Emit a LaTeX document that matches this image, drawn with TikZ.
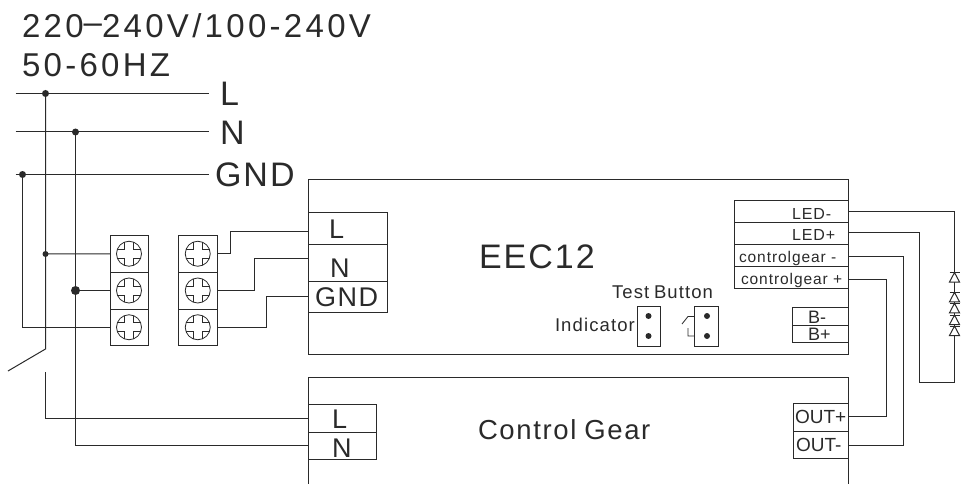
\documentclass[tikz,border=0pt]{standalone}
\usepackage{fontspec}
\setmainfont{Liberation Sans}
\newfontfamily\widefont[LetterSpace=6]{Liberation Sans}
\newfontfamily\titlefont[LetterSpace=10]{Liberation Sans}
\definecolor{ink}{HTML}{2A2A2A}
\newcommand{\fsz}[1]{\fontsize{#1}{#1}\selectfont}
% rectangle node from corner to corner
\newcommand{\cell}[5]{%
  \pgfmathsetmacro{\cw}{#4-#2}\pgfmathsetmacro{\ch}{#5-#3}%
  \pgfmathsetmacro{\cx}{(#2+#4)/2}\pgfmathsetmacro{\cy}{(#3+#5)/2}%
  \node[boxcell,minimum width=\cw pt,minimum height=\ch pt] (#1) at (\cx,\cy) {};}
\tikzset{
  x=1pt,y=-1pt,
  wire/.style={line width=1pt,color=ink},
  boxcell/.style={draw=ink,line width=1pt,rectangle,inner sep=0pt,outer sep=0pt},
  dotnode/.style={circle,fill=ink,inner sep=0pt,outer sep=0pt},
  lab/.style={anchor=base west,inner sep=0pt,outer sep=0pt,text=ink},
  screw/.pic={
    \draw[line width=.8pt,color=ink] (0,0) circle[radius=12.5];
    \draw[line width=.8pt,color=ink]
      (4.5,-11.6)--(4.5,-4.5)--(11.6,-4.5)
      (11.6,4.5)--(4.5,4.5)--(4.5,11.6)
      (-4.5,11.6)--(-4.5,4.5)--(-11.6,4.5)
      (-11.6,-4.5)--(-4.5,-4.5)--(-4.5,-11.6);
  },
  diode/.pic={
    \filldraw[line width=1pt,draw=ink,fill=white] (5,9.5)--(0,0)--(-5,9.5)--cycle;
    \draw[line width=1pt,color=ink] (-5,0)--(5,0);
  }
}
\begin{document}
\begin{tikzpicture}
\useasboundingbox (0,0) rectangle (961,484);
% titles
\node[lab,font=\titlefont\fsz{33}] (title1) at (22,37.5) {220\raisebox{4pt}{–}240V/100-240V};
\node[lab,font=\titlefont\fsz{33}] (title2) at (22,76.5) {50-60HZ};
% mains labels
\node[lab,font=\fsz{34}] (tL) at (220,106) {L};
\node[lab,font=\fsz{34}] (tN) at (220,145) {N};
\node[lab,font=\widefont\fsz{34}] (tG) at (215,186) {GND};
% mains free ends
\coordinate (lA) at (15.5,93.5); \coordinate (lB) at (209,93.5);
\coordinate (nA) at (15.5,132); \coordinate (nB) at (209,132);
\coordinate (gA) at (15.5,174.5); \coordinate (gB) at (209,174.5);
\draw[wire] (lA)--(lB) (nA)--(nB) (gA)--(gB);
\node[dotnode,minimum size=7pt] (dL) at (45.5,93.5) {};
\node[dotnode,minimum size=7pt] (dN) at (75.5,132) {};
\node[dotnode,minimum size=7pt] (dG) at (22.5,174.5) {};
\node[dotnode,minimum size=6pt] (dL2) at (45.5,254) {};
\node[dotnode,minimum size=9pt] (dN2) at (75.5,290.5) {};
% terminals
\cell{ta}{110}{235.5}{148}{272}
\cell{tb}{110}{272}{148}{309}
\cell{tc}{110}{309}{148}{345.5}
\cell{ua}{178.5}{235.5}{217}{272}
\cell{ub}{178.5}{272}{217}{309}
\cell{uc}{178.5}{309}{217}{345.5}
\foreach \n in {ta,tb,tc,ua,ub,uc} \pic at (\n) {screw};
% EEC12 box
\cell{eec}{308.5}{179}{848}{354}
\cell{inL}{308}{212.5}{387}{244.5}
\cell{inN}{308}{244.5}{387}{281.5}
\cell{inG}{308}{281.5}{387}{312.5}
\node[lab,font=\fsz{27}] (xL) at (329,238) {L};
\node[lab,font=\fsz{27}] (xN) at (330,277) {N};
\node[lab,font=\widefont\fsz{27}] (xG) at (315,306.5) {GND};
\node[lab,font=\widefont\fsz{34}] (xE) at (479,268) {EEC12};
\node[lab,font=\widefont\fsz{18.5}] (xT) at (612,298) {Test\hspace{-1.5pt} Button};
\node[lab,font=\widefont\fsz{18.5}] (xI) at (555,331) {Indicator};
\cell{ind}{637}{306}{660.5}{346}
\cell{btn}{694.5}{306}{718}{346}
\node[dotnode,minimum size=6pt] (i1) at (648.5,316) {};
\node[dotnode,minimum size=6pt] (i2) at (648.5,336) {};
\node[dotnode,minimum size=6pt] (b1) at (707,316) {};
\node[dotnode,minimum size=6pt] (b2) at (707,336) {};
\coordinate (s1) at (694.5,316.5); \coordinate (s2) at (688,316.5); \coordinate (s3) at (682,324);
\coordinate (s4) at (688,328); \coordinate (s5) at (688,336); \coordinate (s6) at (694.5,336);
\draw[line width=.8pt,color=ink] (s1)--(s2)--(s3) (s4)--(s5)--(s6);
\cell{c1}{734}{200.5}{848}{222.5}
\cell{c2}{734}{222.5}{848}{244.5}
\cell{c3}{734}{244.5}{848}{266.5}
\cell{c4}{734}{266.5}{848}{288.5}
\node[lab,font=\widefont\fsz{16}] (x1) at (792,219) {LED-};
\node[lab,font=\widefont\fsz{16}] (x2) at (792,240) {LED+};
\node[lab,font=\widefont\fsz{15.5}] (x3) at (739,262) {controlgear -};
\node[lab,font=\widefont\fsz{15.5}] (x4) at (741,284) {controlgear +};
\cell{bm}{792}{307.5}{848}{325}
\cell{bp}{792}{325}{848}{342.5}
\node[lab,font=\fsz{18}] (x5) at (808,323) {B-};
\node[lab,font=\fsz{18}] (x6) at (808,340) {B+};
% control gear box (open bottom)
\coordinate (g1) at (308.5,484); \coordinate (g2) at (308.5,377);
\coordinate (g3) at (848,377); \coordinate (g4) at (848,484);
\draw[wire] (g1)--(g2)--(g3)--(g4);
\node[lab,font=\widefont\fsz{27.5}] (xC) at (478,439) {Control\hspace{-1.5pt} Gear};
\cell{cL}{308}{404.5}{376}{432}
\cell{cN}{308}{432}{376}{459.5}
\node[lab,font=\fsz{27}] (yL) at (332,428) {L};
\node[lab,font=\fsz{27}] (yN) at (332,457) {N};
\cell{oP}{793}{403.5}{848}{431}
\cell{oM}{793}{431}{848}{458.5}
\node[lab,font=\fsz{19}] (yP) at (795,423) {OUT+};
\node[lab,font=\fsz{19}] (yM) at (796,451) {OUT-};
% left wiring
\coordinate (sw1) at (45.5,349); \coordinate (sw2) at (8,371); \coordinate (sw3) at (45.5,372);
\draw[wire] (dL.center)--(sw1)--(sw2);
\draw[wire] (sw3) |- (cL.west);
\draw[wire] (dN.center) |- (cN.west);
\draw[wire] (dG.center) |- (tc.west);
\draw[wire] (dL2.center)--(ta.west);
\draw[wire] (dN2.center)--(tb.west);
% terminal to input
\coordinate (wL) at (308,231.5); \coordinate (wN) at (308,258); \coordinate (wG) at (308,296.5);
\draw[wire] (ua.east)--++(13,0) |- (wL);
\draw[wire] (ub.east)--++(37,0) |- (wN);
\draw[wire] (uc.east)--++(49,0) |- (wG);
% right wiring
\coordinate (lm) at (954.5,211.5); \coordinate (ll) at (848,211.5);
\coordinate (pa) at (848,232.5); \coordinate (pb) at (919,382.5); \coordinate (pc) at (954.5,382.5);
\draw[wire] (ll)--(lm)--(954.5,272);
\draw[wire] (pa)-|(pb)--(pc)--(954.5,272);
\coordinate (q1) at (848,256.5); \coordinate (q2) at (903,445); \coordinate (q3) at (848,445);
\draw[wire] (q1)-|(q2)--(q3);
\coordinate (r1) at (848,279); \coordinate (r2) at (886,416.5); \coordinate (r3) at (848,416.5);
\draw[wire] (r1)-|(r2)--(r3);
% LED string
\foreach \y in {272.5,292.3,303.3,315,326} \pic at (954.5,\y) {diode};
\end{tikzpicture}
\end{document}
